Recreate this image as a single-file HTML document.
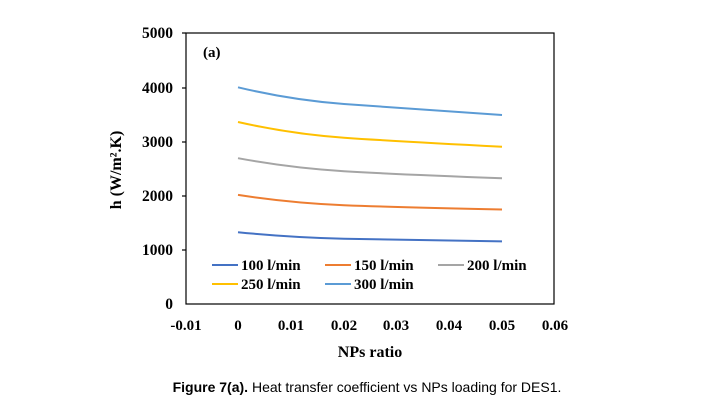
<!DOCTYPE html>
<html><head><style>body{margin:0;background:#fff;width:717px;height:409px;overflow:hidden}</style></head><body>
<svg width="717" height="409" xmlns="http://www.w3.org/2000/svg" style="position:absolute;left:0;top:0">
<rect x="186" y="33" width="368" height="271" fill="none" stroke="#000" stroke-width="1.2"/>
<g stroke="#000" stroke-width="1.2"><line x1="182" y1="33" x2="186" y2="33"/><line x1="182" y1="88" x2="186" y2="88"/><line x1="182" y1="142" x2="186" y2="142"/><line x1="182" y1="196" x2="186" y2="196"/><line x1="182" y1="250" x2="186" y2="250"/></g>
<g font-family="Liberation Serif" font-weight="bold" font-size="15.5" text-anchor="end">
<text x="173" y="38">5000</text><text x="173" y="93">4000</text><text x="173" y="147">3000</text><text x="173" y="201">2000</text><text x="173" y="255">1000</text><text x="173" y="309">0</text></g>
<g font-family="Liberation Serif" font-weight="bold" font-size="15" text-anchor="middle">
<text x="186" y="330">-0.01</text><text x="238" y="330">0</text><text x="291" y="330">0.01</text><text x="344" y="330">0.02</text><text x="396" y="330">0.03</text><text x="449" y="330">0.04</text><text x="502" y="330">0.05</text><text x="555" y="330">0.06</text>
<text x="370" y="357" font-size="16">NPs ratio</text>
<text transform="translate(121,170) rotate(-90)" font-size="16">h (W/m².K)</text></g>
<text x="203" y="57" font-family="Liberation Serif" font-weight="bold" font-size="15">(a)</text>
<g fill="none" stroke-width="2">
<path d="M238,87.3 Q291,100 344,104 T502,115" stroke="#5B9BD5"/>
<path d="M238,122 Q291,134 344,137.7 T502,146.7" stroke="#FFC000"/>
<path d="M238,158.2 Q291,168 344,171.2 T502,178.2" stroke="#A5A5A5"/>
<path d="M238,194.9 Q291,203 344,205.2 T502,209.5" stroke="#ED7D31"/>
<path d="M238,232.2 Q291,237.5 344,238.7 T502,241.4" stroke="#4472C4"/>
<line x1="212" y1="265" x2="238" y2="265" stroke="#4472C4"/>
<line x1="325" y1="265" x2="351" y2="265" stroke="#ED7D31"/>
<line x1="438" y1="265" x2="464" y2="265" stroke="#A5A5A5"/>
<line x1="212" y1="284" x2="238" y2="284" stroke="#FFC000"/>
<line x1="325" y1="284" x2="351" y2="284" stroke="#5B9BD5"/>
</g>
<g font-family="Liberation Serif" font-weight="bold" font-size="15">
<text x="241" y="270">100 l/min</text><text x="354" y="270">150 l/min</text><text x="467" y="270">200 l/min</text>
<text x="241" y="289">250 l/min</text><text x="354" y="289">300 l/min</text></g>
<text x="367" y="392" text-anchor="middle" font-family="Liberation Sans" font-size="14"><tspan font-weight="bold">Figure 7(a).</tspan> Heat transfer coefficient vs NPs loading for DES1.</text>
</svg>
</body></html>
